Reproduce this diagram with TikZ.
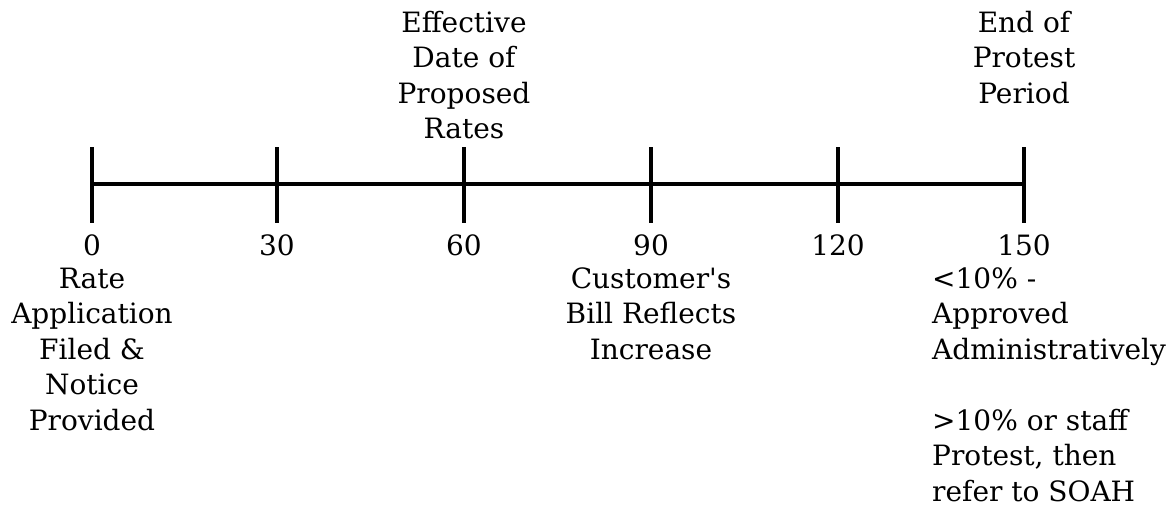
\documentclass[tikz,border=0pt]{standalone}
\usepackage{fontspec}
\setmainfont{DejaVu Serif}[Ligatures=TeXOff]
\begin{document}
\begin{tikzpicture}[x=1pt,y=1pt,
  lbl/.style={inner sep=0pt,anchor=base,font=\fontsize{28}{35.5}\selectfont},
  axis/.style={line width=4pt}]
\useasboundingbox (0,0) rectangle (1175,-512);
\foreach \v/\x in {0/92,30/277,60/464,90/651,120/838,150/1024}{
  \coordinate (t\v) at (\x,-184);
  \coordinate (u\v) at (\x,-147);
  \coordinate (d\v) at (\x,-223);
  \draw[axis] (u\v) -- (d\v);
  \node[lbl] (n\v) at (\x,-255) {\v};
}
\draw[axis] (t0) -- (t150);
\node[lbl] (top60) at (464,-32) {\begin{tabular}[t]{@{}c@{}}Effective\\Date of\\Proposed\\Rates\end{tabular}};
\node[lbl] (top150) at (1024,-32) {\begin{tabular}[t]{@{}c@{}}End of\\Protest\\Period\end{tabular}};
\node[lbl] (bot0) at (92,-288) {\begin{tabular}[t]{@{}c@{}}Rate\\Application\\Filed \&\\Notice\\Provided\end{tabular}};
\node[lbl] (bot90) at (651,-288) {\begin{tabular}[t]{@{}c@{}}Customer's\\Bill Reflects\\Increase\end{tabular}};
\node[lbl,anchor=base west] (bot150) at (932,-288) {\begin{tabular}[t]{@{}l@{}}<10\% -\\Approved\\Administratively\\[35.5pt]>10\% or staff\\Protest, then\\refer to SOAH\end{tabular}};
\end{tikzpicture}
\end{document}
